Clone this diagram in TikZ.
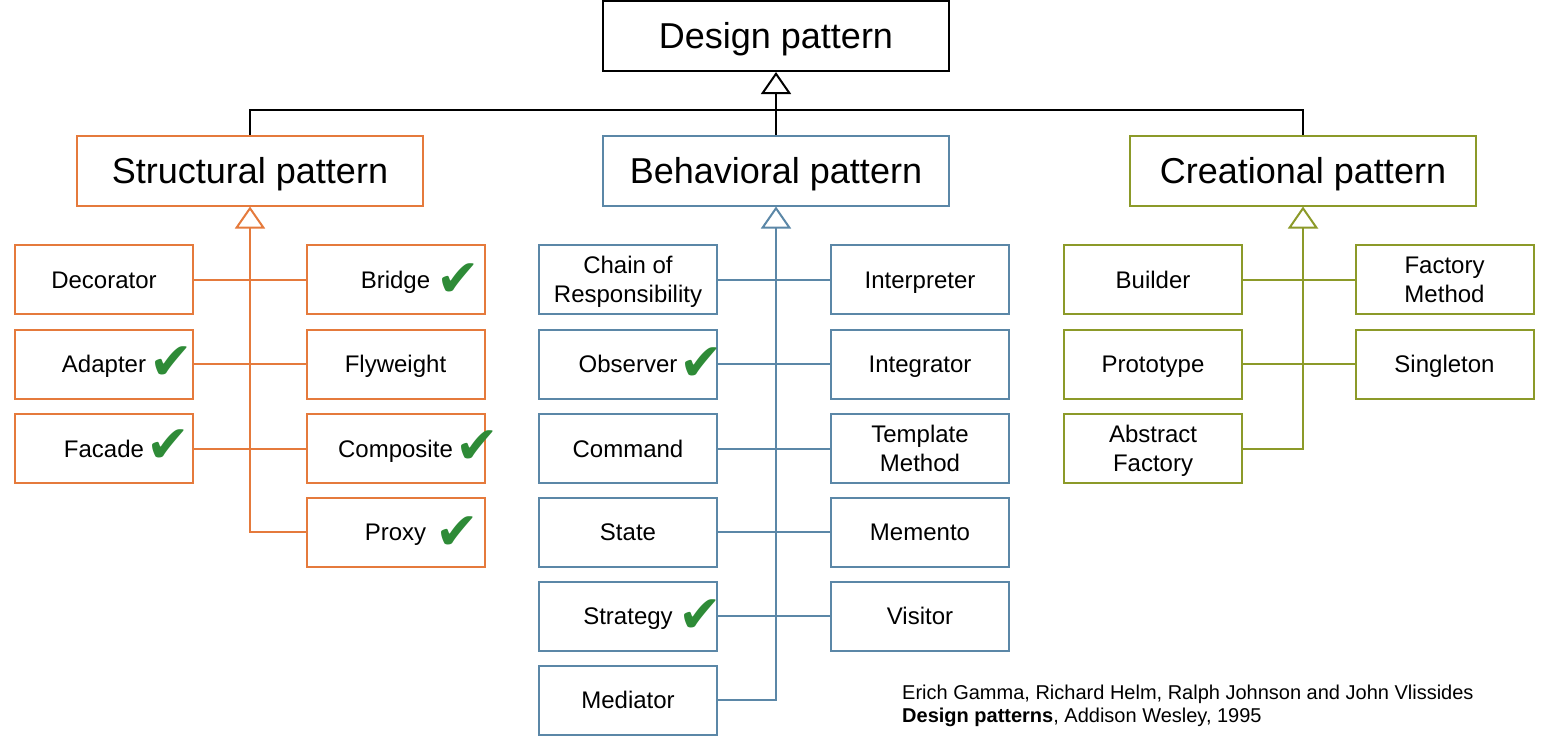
\documentclass[tikz,border=0pt]{standalone}
\usepackage{fontspec}
\setmainfont{Liberation Sans}
\newfontfamily\symfont{DejaVu Sans}
\usetikzlibrary{arrows.meta}
\definecolor{orng}{HTML}{E57A3C}
\definecolor{blu}{HTML}{5B87A7}
\definecolor{olv}{HTML}{8C9A29}
\definecolor{chkg}{HTML}{2E8B37}
\begin{document}
\begin{tikzpicture}[x=1pt,y=-1pt,
 big/.style={draw,line width=2pt,minimum width=346pt,minimum height=70pt,inner sep=0pt,font=\fontsize{36}{43}\selectfont,text height=32.4pt,text depth=6.5pt},
 small/.style={draw,line width=2pt,minimum width=178pt,minimum height=69pt,inner sep=0pt,align=center,font=\fontsize{24}{29}\selectfont,text height=21.6pt,text depth=4.6pt},
 two/.style={text height=50.6pt,text depth=4.6pt},
 conn/.style={line width=2pt},
 tri/.style={line width=2pt,-{Triangle[open,length=22pt,width=30pt,line width=2pt,fill=white]}},
 chk/.style={text=chkg,inner sep=0pt,font=\symfont\fontsize{52}{52}\selectfont},
 credit/.style={inner sep=0pt,anchor=base west,font=\fontsize{20}{23}\selectfont},
]
\useasboundingbox (0,0) rectangle (1549,747);
% top level
\node[big] (design) at (776,36) {Design pattern};
\node[big,draw=orng] (struct) at (250,170.5) {Structural pattern};
\node[big,draw=blu] (behav) at (776,170.5) {Behavioral pattern};
\node[big,draw=olv] (creat) at (1303,170.5) {Creational pattern};
\coordinate (hub) at (776,110);
\draw[conn] (struct.north) |- (hub) -| (creat.north);
\draw[tri] (behav.north) -- (design.south);

% structural
\begin{scope}[every node/.append style={small,draw=orng}]
\node (deco) at (104,279.5) {Decorator};
\node (bridge) at (395.5,279.5) {Bridge};
\node (adapter) at (104,364) {Adapter};
\node (fly) at (395.5,364) {Flyweight};
\node (facade) at (104,448.5) {Facade};
\node (comp) at (395.5,448.5) {Composite};
\node (proxy) at (395.5,532) {Proxy};
\end{scope}
\begin{scope}[orng]
\draw[conn] (deco.east) -- (bridge.west);
\draw[conn] (adapter.east) -- (fly.west);
\draw[conn] (facade.east) -- (comp.west);
\draw[tri] (proxy.west) -| (struct.south);
\end{scope}

% behavioral
\begin{scope}[every node/.append style={small,draw=blu}]
\node[two] (chain) at (628,279.5) {Chain of\\Responsibility};
\node (interp) at (920,279.5) {Interpreter};
\node (observer) at (628,364) {Observer};
\node (integ) at (920,364) {Integrator};
\node (command) at (628,448.5) {Command};
\node[two] (templ) at (920,448.5) {Template\\Method};
\node (state) at (628,532) {State};
\node (memento) at (920,532) {Memento};
\node (strategy) at (628,616) {Strategy};
\node (visitor) at (920,616) {Visitor};
\node (mediator) at (628,700) {Mediator};
\end{scope}
\begin{scope}[blu]
\draw[conn] (chain.east) -- (interp.west);
\draw[conn] (observer.east) -- (integ.west);
\draw[conn] (command.east) -- (templ.west);
\draw[conn] (state.east) -- (memento.west);
\draw[conn] (strategy.east) -- (visitor.west);
\draw[tri] (mediator.east) -| (behav.south);
\end{scope}

% creational
\begin{scope}[every node/.append style={small,draw=olv}]
\node (builder) at (1153,279.5) {Builder};
\node[two] (factm) at (1444.5,279.5) {Factory\\Method};
\node (proto) at (1153,364) {Prototype};
\node (single) at (1444.5,364) {Singleton};
\node[two] (abstr) at (1153,448.5) {Abstract\\Factory};
\end{scope}
\begin{scope}[olv]
\draw[conn] (builder.east) -- (factm.west);
\draw[conn] (proto.east) -- (single.west);
\draw[tri] (abstr.east) -| (creat.south);
\end{scope}

% check marks
\node[chk] (ck1) at (458,280) {✔};
\node[chk] (ck2) at (171,363) {✔};
\node[chk] (ck3) at (168,446) {✔};
\node[chk] (ck4) at (477,447) {✔};
\node[chk] (ck5) at (457,533) {✔};
\node[chk] (ck6) at (701,364) {✔};
\node[chk] (ck7) at (700,616) {✔};

% credits
\node[credit] (cred1) at (902,699) {Erich Gamma, Richard Helm, Ralph Johnson and John Vlissides};
\node[credit] (cred2) at (902,722) {\textbf{Design patterns}, Addison Wesley, 1995};
\end{tikzpicture}
\end{document}
